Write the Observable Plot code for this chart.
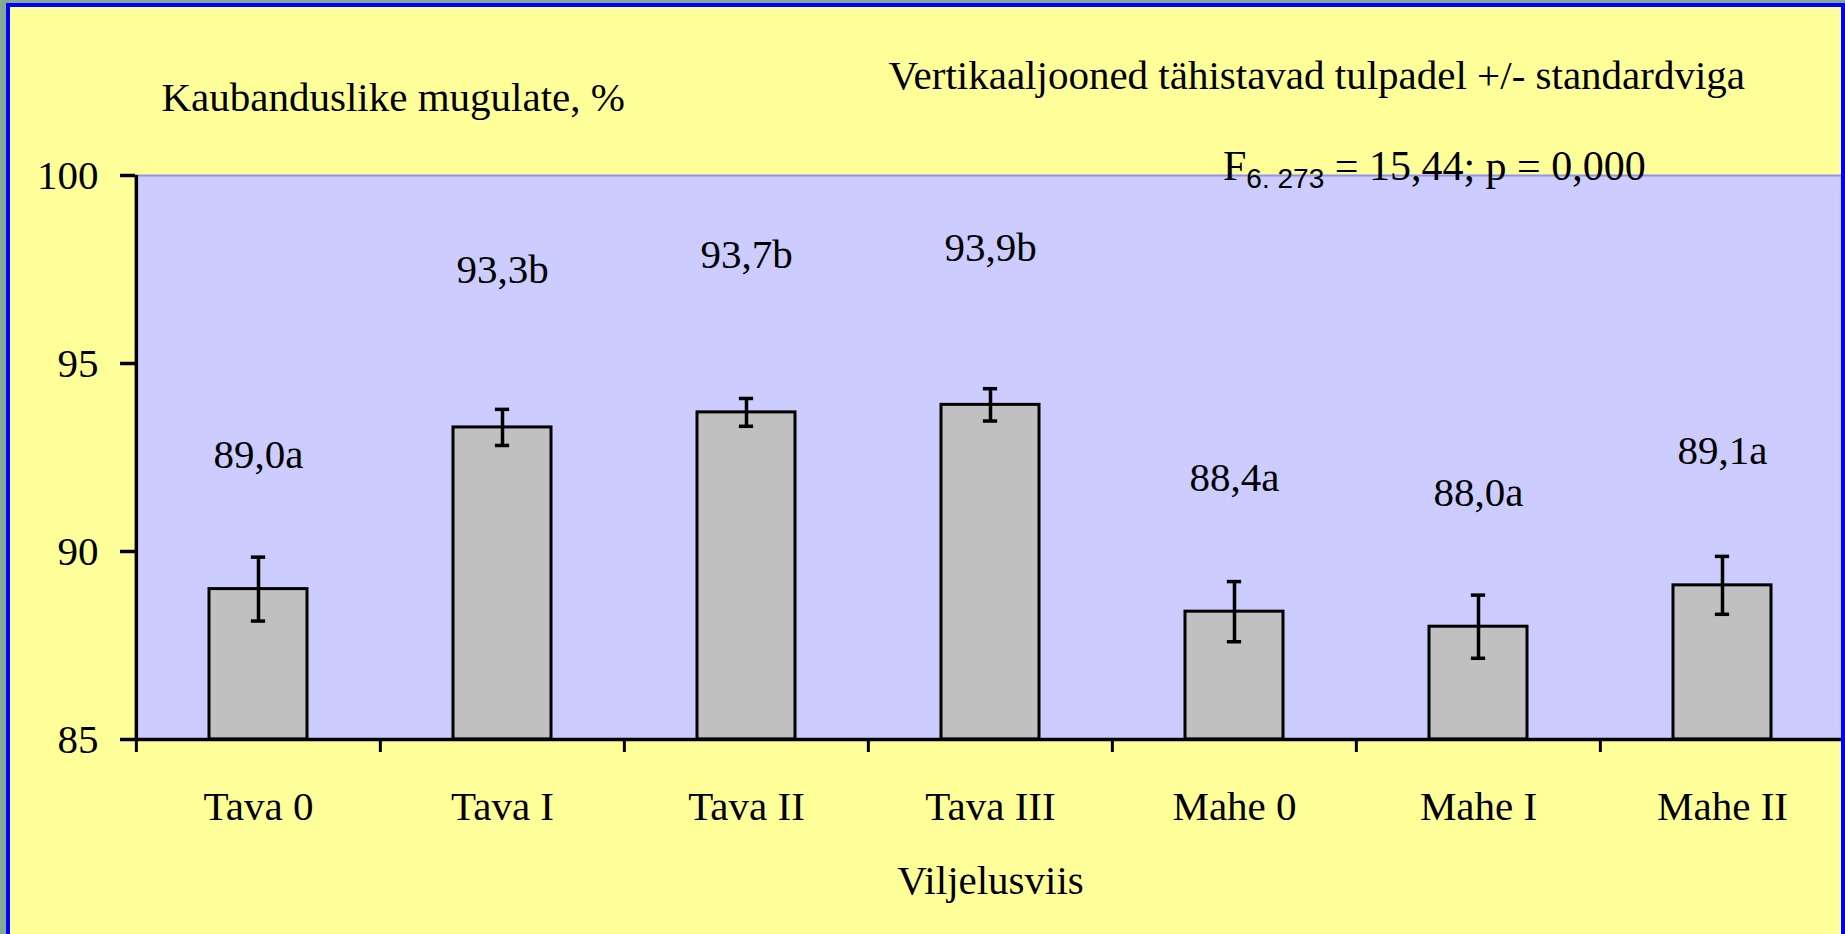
<!DOCTYPE html>
<html><head><meta charset="utf-8">
<script src="https://cdn.jsdelivr.net/npm/d3@7"></script>
<script src="https://cdn.jsdelivr.net/npm/@observablehq/plot@0.6"></script>
<style>
html,body{margin:0;padding:0;}
body{width:1845px;height:934px;overflow:hidden;background:#86a896;}
#wrap{position:relative;width:1845px;height:934px;overflow:hidden;}
#bg{position:absolute;left:6px;top:3px;width:1839px;height:960px;background:#FFFF99;}
#chart{position:absolute;left:0;top:0;}
#border{position:absolute;left:6px;top:3px;width:1839px;height:1000px;border:4px solid #0000FF;box-sizing:border-box;pointer-events:none;}
</style></head>
<body><div id="wrap"><div id="bg"></div><div id="chart"></div><div id="border"></div></div>
<script>
const categories = ["Tava 0", "Tava I", "Tava II", "Tava III", "Mahe 0", "Mahe I", "Mahe II"];
const means = [89.0, 93.3, 93.7, 93.9, 88.4, 88.0, 89.1];
const stdErrors = [0.85, 0.48, 0.37, 0.43, 0.80, 0.84, 0.77];
const groupLetters = ["a", "b", "b", "b", "a", "a", "a"];
const yTicks = [85, 90, 95, 100];
const yAxisTitle = "Kaubanduslike mugulate, %";
const xAxisTitle = "Viljelusviis";
const noteText = "Vertikaaljooned tähistavad tulpadel +/- standardviga";
const statMain = "F";
const statSub = "6. 273";
const statRest = " = 15,44; p = 0,000";

const data = categories.map((c, i) => ({
  cat: c, mean: means[i], se: stdErrors[i], letter: groupLetters[i],
  label: means[i].toFixed(1).replace(".", ",") + groupLetters[i]
}));

const W = 1845, H = 934, mL = 135, mT = 175, mB = 195, mR = 0;
const step = (W - mL - mR) / categories.length;
const bandW = step * 0.4;
const capW = 14;
const serif = "'Liberation Serif', 'Times New Roman', serif";
const fs = 41;

const plot = Plot.plot({
  width: W, height: H,
  marginLeft: mL, marginRight: mR, marginTop: mT, marginBottom: mB,
  style: {background: "transparent", fontFamily: serif, fontSize: fs + "px", color: "black", overflow: "visible"},
  x: {domain: categories, paddingInner: 0.6, paddingOuter: 0.3, axis: null},
  y: {domain: [yTicks[0], yTicks[yTicks.length - 1]], axis: null},
  marks: [
    Plot.frame({fill: "#CCCCFF", stroke: null}),
    Plot.ruleY([yTicks[yTicks.length - 1]], {stroke: "#9090F0", strokeWidth: 2}),
    Plot.barY(data, {x: "cat", y1: yTicks[0], y2: "mean", fill: "#C0C0C0", stroke: "black", strokeWidth: 3}),
    Plot.ruleX(data, {x: "cat", y1: d => d.mean - d.se, y2: d => d.mean + d.se, stroke: "black", strokeWidth: 3.5}),
    Plot.tickY(data, {x: "cat", y: d => d.mean + d.se, stroke: "black", strokeWidth: 3.5, insetLeft: (bandW - capW) / 2, insetRight: (bandW - capW) / 2}),
    Plot.tickY(data, {x: "cat", y: d => d.mean - d.se, stroke: "black", strokeWidth: 3.5, insetLeft: (bandW - capW) / 2, insetRight: (bandW - capW) / 2}),
    Plot.text(data.filter(d => d.letter === "a"), {x: "cat", y: "mean", text: "label", dy: -121, lineAnchor: "bottom", fontSize: fs}),
    Plot.text(data.filter(d => d.letter === "b"), {x: "cat", y: "mean", text: "label", dy: -144, lineAnchor: "bottom", fontSize: fs}),
    Plot.ruleY([yTicks[0]], {stroke: "black", strokeWidth: 3.5}),
    Plot.ruleX([categories[0]], {dx: -step / 2, stroke: "black", strokeWidth: 3.5}),
    Plot.axisY({ticks: yTicks, tickSize: 15, tickPadding: 22, strokeWidth: 3.5, fontSize: fs, tickFormat: d => String(d), label: null}),
    Plot.axisX({tickSize: 13, strokeWidth: 3, dx: -step / 2, tickFormat: () => "", label: null}),
    Plot.axisX({tickSize: 0, tickPadding: 51, fontSize: fs, label: null}),
    Plot.text([xAxisTitle], {frameAnchor: "bottom", dy: 154, lineAnchor: "bottom", fontSize: fs}),
    Plot.text([yAxisTitle], {frameAnchor: "top-left", dx: 161 - mL, dy: 110 - mT, lineAnchor: "bottom", textAnchor: "start", fontSize: fs}),
    Plot.text([noteText], {frameAnchor: "top-left", dx: 888 - mL, dy: 88 - mT, lineAnchor: "bottom", textAnchor: "start", fontSize: fs})
  ]
});
document.getElementById("chart").appendChild(plot);

const svg = d3.select(plot);
const t = svg.append("text")
  .attr("x", 1223).attr("y", 180)
  .attr("text-anchor", "start")
  .attr("font-family", serif).attr("font-size", 42).attr("fill", "black");
t.append("tspan").text(statMain);
t.append("tspan").attr("dy", 8).attr("font-family", "'Liberation Sans', Arial, sans-serif").attr("font-size", 28).text(statSub);
t.append("tspan").attr("dy", -8).text(statRest);
</script>
</body></html>
